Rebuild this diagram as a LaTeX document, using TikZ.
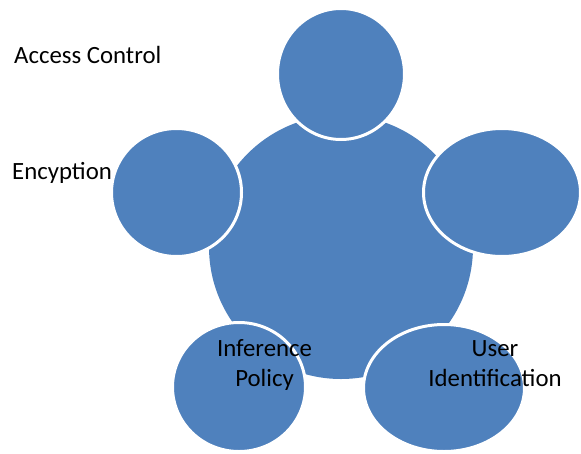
\documentclass[tikz,border=0pt]{standalone}
\usepackage{fontspec}
\setmainfont{Carlito}
\usetikzlibrary{shapes.geometric}
\definecolor{officeblue}{RGB}{79,129,189}
\tikzset{
    hub/.style={circle, fill=officeblue, inner sep=0pt},
    petalnode/.style={ellipse, fill=officeblue, draw=white, line width=3pt, inner sep=0pt},
    caption/.style={inner sep=0pt, align=center, font=\fontsize{24.8}{30}\selectfont}
}
\newcommand{\drawP}[5]{
    \node[petalnode, minimum width=#3pt, minimum height=#4pt] (#5) at (#1,#2) {};
}
\newcommand{\drawT}[5]{
    \node[caption, anchor=#3] (#4) at (#1,#2) {#5};
}

\begin{document}
\begin{tikzpicture}[x=1pt, y=-1pt]
    \useasboundingbox (0,0) rectangle (581,453);
    %Centre
        \node[hub, minimum size=264pt] (core) at (341,247) {};

    % Petals
        \drawP{341}{74}{127}{131}{access}
        \drawP{176.5}{192.5}{130}{128}{encrypt}
        \drawP{502}{192.5}{157}{128}{spare}
        \drawP{239}{387}{133}{129}{inference}
        \drawP{444}{388}{161}{127}{identity}

    % Labels
        \drawT{14}{63}{base west}{accesstext}{Access Control}
        \drawT{12}{179}{base west}{encrypttext}{Encyption}
        \drawT{264.5}{386}{base}{inferencetext}{Inference\\Policy}
        \drawT{495}{386}{base}{identitytext}{User\\Identification}
\end{tikzpicture}
\end{document}
